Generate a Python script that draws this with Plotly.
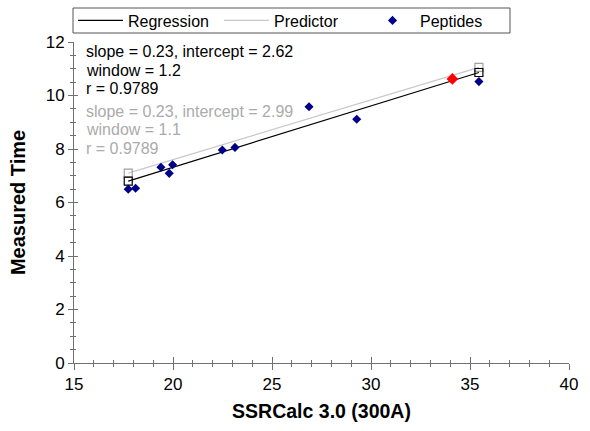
import plotly.graph_objects as go

# ---- data ----
pep_x = [17.74, 18.11, 19.39, 19.81, 19.98, 22.49, 23.13, 26.87, 29.28, 35.45]
pep_y = [6.50, 6.53, 7.32, 7.09, 7.41, 7.96, 8.06, 9.58, 9.11, 10.52]
sel_x = [34.11]
sel_y = [10.62]
reg_x = [17.74, 35.45]
reg_y = [6.80, 10.86]
pred_x = [17.74, 35.45]
pred_y = [7.10, 11.05]
reg_text = ["slope = 0.23, intercept = 2.62", "window = 1.2", "r = 0.9789"]
pred_text = ["slope = 0.23, intercept = 2.99", "window = 1.1", "r = 0.9789"]
x_ticks = [15, 20, 25, 30, 35, 40]
y_ticks = [0, 2, 4, 6, 8, 10, 12]

FONT = "Liberation Sans, Arial, sans-serif"
GRAY_TXT = "#ABABAB"
PRED_COL = "#C8C8C8"
NAVY = "#00008B"

# plot area in pixels
PL, PR, PT, PB = 74, 569, 42, 363
PW, PH = PR - PL, PB - PT


def px(xp):
    return (xp - PL) / PW


def py(yp):
    return (PB - yp) / PH


fig = go.Figure()
fig.add_trace(go.Scatter(x=reg_x, y=reg_y, mode="lines", name="Regression",
                         line=dict(color="black", width=1.2)))
fig.add_trace(go.Scatter(x=pred_x, y=pred_y, mode="lines", name="Predictor",
                         line=dict(color=PRED_COL, width=1.2)))
fig.add_trace(go.Scatter(x=pep_x, y=pep_y, mode="markers", name="Peptides",
                         marker=dict(symbol="diamond", size=7, color=NAVY)))
fig.add_trace(go.Scatter(x=pred_x, y=pred_y, mode="markers", showlegend=False,
                         marker=dict(symbol="square-open", size=8, color="#A0A0A0",
                                     line=dict(width=1.2))))
fig.add_trace(go.Scatter(x=reg_x, y=reg_y, mode="markers", showlegend=False,
                         marker=dict(symbol="square-open", size=8, color="black",
                                     line=dict(width=1.2))))
fig.add_trace(go.Scatter(x=sel_x, y=sel_y, mode="markers", showlegend=False,
                         marker=dict(symbol="diamond", size=9, color="red")))
# invisible trace on overlay axes (for inner half of crossing ticks)
fig.add_trace(go.Scatter(x=[15], y=[0], xaxis="x2", yaxis="y2", mode="markers",
                         marker=dict(opacity=0), showlegend=False, hoverinfo="skip"))

AX = "#707070"
common_x = dict(range=[15, 40], tickvals=x_ticks, linecolor=AX, linewidth=1,
                showgrid=False, zeroline=False, tickcolor=AX, automargin=False)
common_y = dict(range=[0, 12], tickvals=y_ticks, linecolor=AX, linewidth=1,
                showgrid=False, zeroline=False, tickcolor=AX, automargin=False)

fig.update_layout(
    width=590, height=431,
    margin=dict(l=PL, r=590 - PR, t=PT, b=431 - PB, autoexpand=False),
    paper_bgcolor="white", plot_bgcolor="white",
    font=dict(family=FONT, color="black"),
    xaxis=dict(**common_x, showline=True, ticks="outside", ticklen=6,
               tickfont=dict(size=17),
               minor=dict(dtick=1, ticks="outside", ticklen=3, tickcolor=AX),
               title=dict(text="<b>SSRCalc 3.0 (300A)</b>", font=dict(size=19.5), standoff=10)),
    yaxis=dict(**common_y, showline=True, ticks="outside", ticklen=5,
               tickfont=dict(size=17),
               minor=dict(dtick=0.5, ticks="outside", ticklen=3, tickcolor=AX),
               title=dict(text="<b>Measured Time</b>", font=dict(size=20), standoff=14)),
    xaxis2=dict(**common_x, overlaying="x", anchor="y2", side="bottom", showline=False,
                ticks="inside", ticklen=6, showticklabels=False,
                minor=dict(dtick=1, ticks="inside", ticklen=3, tickcolor=AX)),
    yaxis2=dict(**common_y, overlaying="y", anchor="x2", side="left", showline=False,
                ticks="inside", ticklen=4, showticklabels=False,
                minor=dict(dtick=0.5, ticks="inside", ticklen=2, tickcolor=AX)),
    legend=dict(orientation="h", x=px(73), xanchor="left", y=py(20.5), yanchor="middle",
                borderwidth=0, bgcolor="rgba(0,0,0,0)",
                font=dict(size=16), entrywidth=86, entrywidthmode="pixels",
                itemwidth=45),
    showlegend=True,
    shapes=[dict(type="rect", xref="paper", yref="paper",
                 x0=px(73), x1=px(510), y0=py(33), y1=py(8),
                 line=dict(color="#555555", width=1), fillcolor="rgba(0,0,0,0)",
                 layer="below")],
)

line_y = [51.7, 70.0, 88.3]
gline_y = [111.0, 129.7, 148.0]
ann = []
for t, yp in zip(reg_text, line_y):
    ann.append(dict(text=t, x=px(84), xref="paper", xanchor="left",
                    y=py(yp), yref="paper", yanchor="middle",
                    showarrow=False, font=dict(size=16, color="black")))
for t, yp in zip(pred_text, gline_y):
    ann.append(dict(text=t, x=px(84), xref="paper", xanchor="left",
                    y=py(yp), yref="paper", yanchor="middle",
                    showarrow=False, font=dict(size=16, color=GRAY_TXT)))
fig.update_layout(annotations=ann)

fig.write_html("out.html", config={"displayModeBar": False},
               post_script="document.body.style.margin='0px';")
